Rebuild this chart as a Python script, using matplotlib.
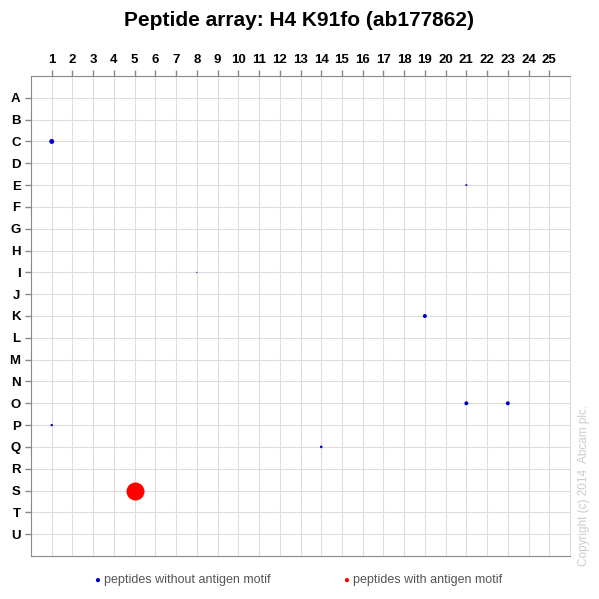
import matplotlib.pyplot as plt

plt.rcParams['font.family'] = ['Liberation Sans', 'DejaVu Sans']

rows = list("ABCDEFGHIJKLMNOPQRSTU")
cols = list(range(1, 26))

# spots: column, row letter, radius in px
blue_col = [1, 21, 8, 19, 21, 23, 1, 14]
blue_row = ["C", "E", "I", "K", "O", "O", "P", "Q"]
blue_r = [2.5, 1.0, 0.6, 2.0, 2.0, 2.0, 1.2, 1.3]
red_col = [5]
red_row = ["S"]
red_r = [9.0]

fig = plt.figure(figsize=(5.99, 5.99), dpi=100)
ax = fig.add_axes([31/599, 1-556/599, 539/599, 480/599])

def ys(letters):
    return [rows.index(l) + 1 for l in letters]

# radius px -> points, s = diameter^2 in pt^2
ax.scatter(blue_col, ys(blue_row), s=[(2*r*0.72)**2 for r in blue_r], c="#0000cc", zorder=3, linewidths=0)
ax.scatter(red_col, ys(red_row), s=[(2*r*0.72)**2 for r in red_r], c="#ff0000", zorder=3, linewidths=0)

ax.set_xlim(0, 26)
ax.set_ylim(22, 0)
ax.set_xticks(cols)
ax.set_yticks(range(1, 22))
ax.set_yticklabels(rows)
ax.xaxis.tick_top()
ax.tick_params(axis="both", labelsize=9.5, length=4, color="#888888", width=1)
for lab in ax.get_xticklabels() + ax.get_yticklabels():
    lab.set_fontweight("bold")
ax.grid(True, color="#dddddd", linewidth=0.8)
ax.set_axisbelow(True)
ax.spines["right"].set_color("#dddddd")
for side in ["left", "top", "bottom"]:
    ax.spines[side].set_color("#888888")

fig.text(0.5, 1-20/599, "Peptide array: H4 K91fo (ab177862)", ha="center", va="center",
         fontsize=15, fontweight="bold")
fig.text(0.157, 1-580/599, "\u25cf", color="#0000cc", fontsize=7, va="center")
fig.text(0.173, 1-580/599, "peptides without antigen motif", color="#555555", fontsize=9, va="center")
fig.text(0.573, 1-580/599, "\u25cf", color="#ff0000", fontsize=7, va="center")
fig.text(0.59, 1-580/599, "peptides with antigen motif", color="#555555", fontsize=9, va="center")
fig.text(1-15/599, 1-485/599, "Copyright (c) 2014  Abcam plc.", rotation=90, color="#cccccc",
         fontsize=8.5, ha="center", va="center")

fig.savefig("out.png", dpi=100)
